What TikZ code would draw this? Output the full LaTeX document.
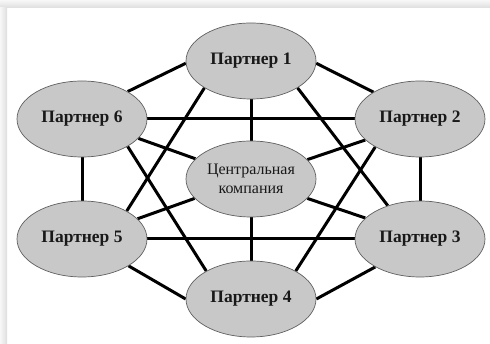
\documentclass[tikz,border=0pt]{standalone}
\usepackage{fontspec}
\setmainfont{Liberation Serif}
\usetikzlibrary{shapes.geometric,backgrounds}
\definecolor{ellgray}{RGB}{200,200,200}
\definecolor{rimgray}{RGB}{95,95,95}
\begin{document}
\begin{tikzpicture}[x=1pt,y=1pt,
  partner/.style={ellipse, draw=rimgray, line width=0.7pt, fill=ellgray,
    minimum width=130pt, minimum height=76pt, inner sep=0pt,
    font=\fontsize{17.5}{20}\selectfont\bfseries, text=black!90},
  hub/.style={partner, font=\fontsize{16}{19.5}\selectfont, align=center},
  link/.style={line width=3pt, black}]
\useasboundingbox (0,0) rectangle (490,-344);

% partners around the central company
\node[partner] (p1) at (251,-61)  {Партнер 1};
\node[partner] (p2) at (420,-119) {Партнер 2};
\node[partner] (p3) at (420,-239) {Партнер 3};
\node[partner] (p4) at (251,-299) {Партнер 4};
\node[partner] (p5) at (82,-239)  {Партнер 5};
\node[partner] (p6) at (82,-119)  {Партнер 6};
\node[hub]     (c)  at (251,-179) {Центральная\\компания};

\begin{scope}[on background layer]
  % soft frame shadow along the top and left edges
  \shade[top color=black!3, bottom color=black!13] (0,0) rectangle (490,-8);
  \shade[left color=black!3, right color=black!13] (0,-8) rectangle (7,-344);

  % outer ring
  \draw[link] (p1.182) -- (p6.31);
  \draw[link] (p1.-2)  -- (p2.150);
  \draw[link] (p6.270) -- (p5.90);
  \draw[link] (p2.270) -- (p3.90);
  \draw[link] (p5.-30) -- (p4.180);
  \draw[link] (p3.212) -- (p4.0);
  % verticals and horizontals
  \draw[link] (p1.270) -- (c.90);
  \draw[link] (c.270)  -- (p4.90);
  \draw[link] (p6.0)   -- (p2.180);
  \draw[link] (p5.0)   -- (p3.180);
  % spokes to the centre
  \draw[link] (p6.-19) -- (c.160);
  \draw[link] (p2.201) -- (c.19);
  \draw[link] (p5.20)  -- (c.199);
  \draw[link] (p3.159) -- (c.-19);
  % long diagonals
  \draw[link] (p1.210) -- (p5.32);
  \draw[link] (p1.-30) -- (p3.134);
  \draw[link] (p6.-31) -- (p4.148);
  \draw[link] (p2.212) -- (p4.32);
\end{scope}
\end{tikzpicture}
\end{document}
